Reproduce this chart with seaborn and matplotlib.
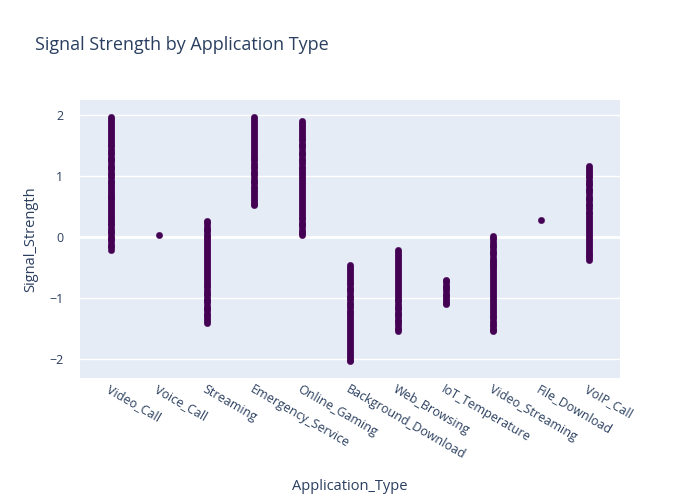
import pandas as pd
import seaborn as sns
import matplotlib.pyplot as plt

# Valores (aproximados), um array por tipo de aplicação
video_call = [1.97, 1.94, 1.91, 1.88, 1.84, 1.81, 1.78, 1.75, 1.71, 1.68, 1.65, 1.62, 1.58, 1.55,
              1.52, 1.49, 1.45, 1.42, 1.39, 1.36, 1.32, 1.29, 1.26, 1.23, 1.19, 1.16, 1.13, 1.1,
              1.06, 1.03, 1.0, 0.97, 0.93, 0.9, 0.87, 0.84, 0.8, 0.77, 0.74, 0.71, 0.68, 0.66,
              0.64, 0.61, 0.58, 0.54, 0.51, 0.48, 0.45, 0.41, 0.38, 0.35, 0.32, 0.28, 0.25, 0.22,
              0.19, 0.15, 0.12, 0.09, 0.06, 0.02, -0.01, -0.04, -0.07, -0.11, -0.14, -0.17, -0.21]
voice_call = [0.03]
streaming = [0.27, 0.24, 0.21, 0.17, 0.14, 0.11, 0.08, 0.04, 0.01, -0.02, -0.05, -0.09, -0.12,
             -0.15, -0.18, -0.22, -0.25, -0.28, -0.31, -0.35, -0.38, -0.41, -0.44, -0.48, -0.51,
             -0.54, -0.57, -0.61, -0.64, -0.67, -0.7, -0.74, -0.77, -0.8, -0.83, -0.87, -0.9,
             -0.93, -0.96, -1.0, -1.03, -1.06, -1.09, -1.13, -1.16, -1.19, -1.22, -1.26, -1.29,
             -1.32, -1.35, -1.39, -1.42]
emergency_service = [1.97, 1.94, 1.91, 1.87, 1.84, 1.81, 1.78, 1.74, 1.71, 1.68, 1.65, 1.61,
                     1.58, 1.55, 1.52, 1.48, 1.45, 1.42, 1.39, 1.35, 1.32, 1.29, 1.26, 1.22,
                     1.19, 1.16, 1.13, 1.09, 1.06, 1.03, 1.0, 0.96, 0.93, 0.9, 0.87, 0.83, 0.8,
                     0.77, 0.74, 0.7, 0.67, 0.64, 0.61, 0.57, 0.55, 0.52]
online_gaming = [1.91, 1.88, 1.85, 1.81, 1.78, 1.75, 1.72, 1.68, 1.65, 1.62, 1.59, 1.55, 1.52,
                 1.49, 1.46, 1.42, 1.39, 1.36, 1.33, 1.29, 1.26, 1.23, 1.2, 1.16, 1.13, 1.1,
                 1.07, 1.03, 1.0, 0.97, 0.94, 0.9, 0.87, 0.84, 0.81, 0.77, 0.74, 0.71, 0.68,
                 0.64, 0.61, 0.58, 0.55, 0.51, 0.48, 0.45, 0.42, 0.38, 0.35, 0.32, 0.29, 0.25,
                 0.22, 0.19, 0.16, 0.12, 0.09, 0.06, 0.03]
background_download = [-0.46, -0.49, -0.52, -0.56, -0.59, -0.62, -0.65, -0.69, -0.72, -0.75,
                       -0.78, -0.82, -0.85, -0.88, -0.91, -0.95, -0.98, -1.01, -1.04, -1.08,
                       -1.11, -1.14, -1.17, -1.21, -1.24, -1.27, -1.3, -1.34, -1.37, -1.4,
                       -1.43, -1.47, -1.5, -1.53, -1.56, -1.6, -1.63, -1.66, -1.69, -1.73,
                       -1.76, -1.79, -1.82, -1.86, -1.89, -1.92, -1.95, -1.99, -2.02, -2.04]
web_browsing = [-0.22, -0.25, -0.28, -0.32, -0.35, -0.38, -0.41, -0.45, -0.48, -0.51, -0.54,
                -0.58, -0.61, -0.64, -0.67, -0.71, -0.74, -0.77, -0.8, -0.84, -0.87, -0.9,
                -0.93, -0.97, -1.0, -1.03, -1.06, -1.1, -1.13, -1.16, -1.19, -1.23, -1.26,
                -1.29, -1.32, -1.36, -1.39, -1.42, -1.45, -1.49, -1.52, -1.55]
iot_temperature = [-0.7, -0.73, -0.76, -0.8, -0.83, -0.86, -0.89, -0.93, -0.96, -0.99, -1.02,
                   -1.06, -1.09, -1.11]
video_streaming = [0.02, -0.01, -0.04, -0.08, -0.11, -0.14, -0.17, -0.21, -0.24, -0.27, -0.3,
                   -0.34, -0.37, -0.4, -0.42, -0.44, -0.47, -0.5, -0.53, -0.56, -0.6, -0.63,
                   -0.66, -0.69, -0.73, -0.76, -0.79, -0.82, -0.86, -0.89, -0.92, -0.95, -0.99,
                   -1.02, -1.05, -1.08, -1.12, -1.15, -1.18, -1.21, -1.25, -1.28, -1.31, -1.34,
                   -1.38, -1.41, -1.44, -1.47, -1.51, -1.53, -1.55]
file_download = [0.28]
voip_call = [1.17, 1.14, 1.11, 1.07, 1.04, 1.01, 0.98, 0.94, 0.91, 0.88, 0.85, 0.81, 0.78, 0.75,
             0.72, 0.68, 0.65, 0.62, 0.59, 0.55, 0.52, 0.49, 0.46, 0.42, 0.39, 0.36, 0.33, 0.29,
             0.26, 0.23, 0.2, 0.16, 0.13, 0.1, 0.07, 0.03, 0.0, -0.03, -0.06, -0.1, -0.13,
             -0.16, -0.19, -0.23, -0.26, -0.29, -0.32, -0.35, -0.38]

categorias = ["Video_Call", "Voice_Call", "Streaming", "Emergency_Service", "Online_Gaming",
              "Background_Download", "Web_Browsing", "IoT_Temperature", "Video_Streaming",
              "File_Download", "VoIP_Call"]
valores = [video_call, voice_call, streaming, emergency_service, online_gaming,
           background_download, web_browsing, iot_temperature, video_streaming,
           file_download, voip_call]

# Monta o DataFrame em formato longo
linhas = []
for cat, vals in zip(categorias, valores):
    for v in vals:
        linhas.append({"Application_Type": cat, "Signal_Strength": v})
data = pd.DataFrame(linhas)

# Estilo parecido com o tema padrão do plotly
sns.set_theme(style="darkgrid", rc={
    "axes.facecolor": "#E5ECF6",
    "grid.color": "white",
    "grid.linewidth": 1.0,
    "axes.edgecolor": "#E5ECF6",
})
plt.rcParams['font.family'] = ['Open Sans', 'DejaVu Sans']
texto = "#2a3f5f"

fig = plt.figure(figsize=(7, 5), dpi=100)
ax = fig.add_axes([80 / 700, 122 / 500, 540 / 700, 278 / 500])

sns.stripplot(data=data, x="Application_Type", y="Signal_Strength", order=categorias,
              jitter=False, color="#440154", size=4.6, linewidth=0.3, edgecolor="#440154",
              ax=ax, zorder=3)

ax.set_xlim(-0.65, 10.65)
ax.set_ylim(-2.32, 2.255)
ax.set_yticks([-2, -1, 0, 1, 2])
ax.axhline(0, color="white", linewidth=2, zorder=1)
ax.tick_params(axis="both", length=0, labelsize=9, labelcolor=texto)
ax.tick_params(axis="y", pad=12)
for lbl in ax.get_xticklabels():
    lbl.set_rotation(-30)
    lbl.set_ha("left")
    lbl.set_va("top")
    lbl.set_rotation_mode("anchor")
for s in ax.spines.values():
    s.set_visible(False)

ax.set_xlabel("Application_Type", fontsize=10.5, color=texto, labelpad=12)
ax.set_ylabel("Signal_Strength", fontsize=10.5, color=texto, labelpad=8)
fig.text(35 / 700, 1 - 45 / 500, "Signal Strength by Application Type", fontsize=13,
         color=texto, va="center", ha="left")

fig.savefig("out.png", dpi=100)
